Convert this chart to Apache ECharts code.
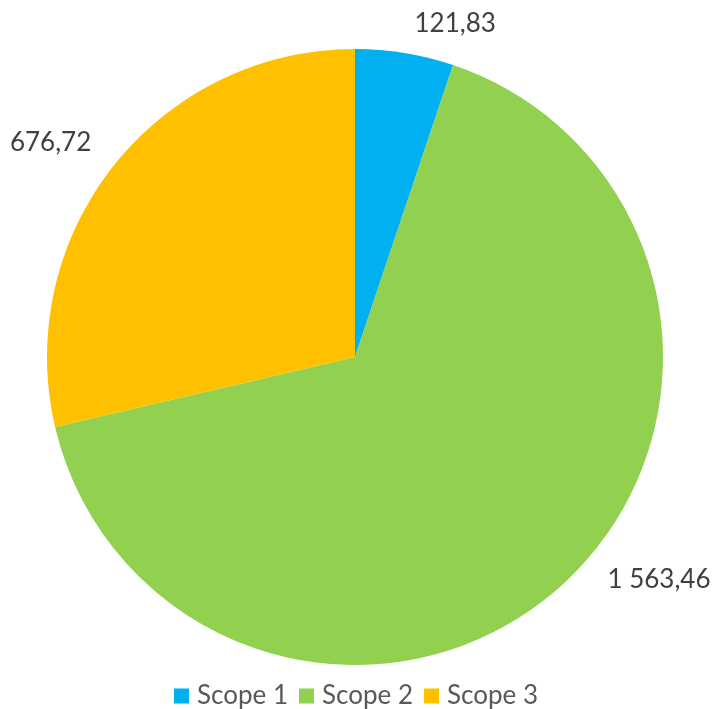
<!DOCTYPE html>
<html>
<head>
<meta charset="utf-8">
<script src="https://cdn.jsdelivr.net/npm/echarts@6/dist/echarts.min.js"></script>
<style>
  html, body { margin: 0; padding: 0; background: #fff; }
  #chart { width: 712px; height: 709px; }
</style>
</head>
<body>
<div id="chart"></div>
<script>
var myChart = echarts.init(document.getElementById('chart'));

// data
var categories = ['Scope 1', 'Scope 2', 'Scope 3'];
var values = [121.83, 1563.46, 676.72];
var colors = ['#00B0F0', '#92D050', '#FFC000'];

// 1 563,46 style
function fmt(v) {
    var parts = v.toFixed(2).split('.');
    var intPart = parts[0].replace(/\B(?=(\d{3})+(?!\d))/g, ' ');
    return intPart + ',' + parts[1];
}

var pieData = [];
for (var i = 0; i < categories.length; i++) {
    pieData.push({ name: categories[i], value: values[i], itemStyle: { color: colors[i] } });
}

var option = {
    backgroundColor: '#ffffff',
    animation: false,
    textStyle: { fontFamily: 'Lato' },
    legend: {
        top: 678,
        left: 'center',
        itemWidth: 15,
        itemHeight: 15,
        itemGap: 11,
        icon: 'rect',
        textStyle: { fontSize: 26, color: '#595959', fontFamily: 'Lato', padding: [0, 0, 0, 3] },
        data: categories
    },
    series: [
        {
            type: 'pie',
            center: [355, 357],
            radius: 308,
            startAngle: 90,
            clockwise: true,
            data: pieData,
            label: {
                show: true,
                position: 'outside',
                overflow: 'none',
                formatter: function (p) { return fmt(p.value); },
                fontSize: 26,
                color: '#404040',
                fontFamily: 'Lato'
            },
            labelLine: { show: false, length: 30, length2: 0 },
            labelLayout: function (params) {
                // excel "best fit" puts these a little off the mid angle
                if (params.dataIndex === 1) return { dx: 20, dy: -27 };
                if (params.dataIndex === 2) return { dx: 6, dy: -4 };
                return {};
            },
            itemStyle: { borderWidth: 0 }
        }
    ]
};
myChart.setOption(option);
</script>
</body>
</html>
